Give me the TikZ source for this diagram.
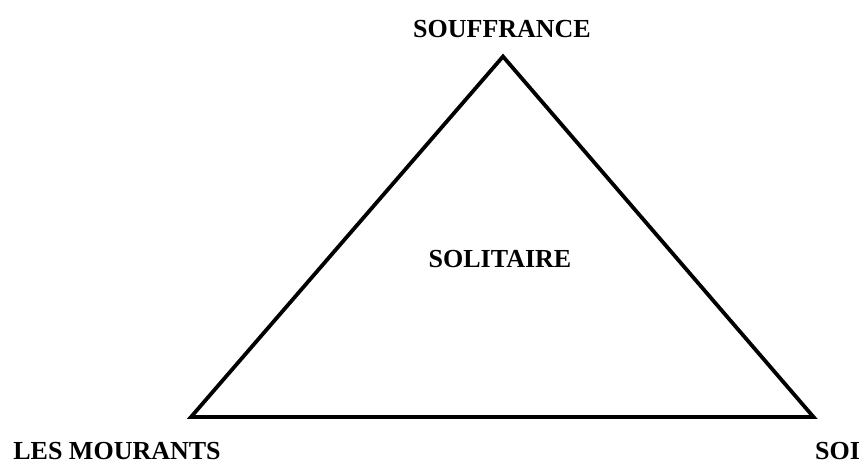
\documentclass[tikz,border=0pt]{standalone}
\usepackage{fontspec}
\setmainfont{Liberation Serif}
\begin{document}
\begin{tikzpicture}[x=1pt,y=-1pt,
  lbl/.style={font=\fontsize{26}{30}\selectfont\bfseries, inner sep=0pt, anchor=base},
  edge/.style={line width=3.8pt, line join=miter}]
\useasboundingbox (0,0) rectangle (861,461);
\coordinate (top) at (503,56.5);
\coordinate (bl) at (191,417);
\coordinate (br) at (813.5,417);
\draw[edge] (top) -- (bl) -- (br) -- cycle;
\node[lbl] (souf) at (502,37) {SOUFFRANCE};
\node[lbl] (soli) at (500,267) {SOLITAIRE};
\node[lbl] (mour) at (117,459) {LES MOURANTS};
\node[lbl, anchor=base west] (soi) at (815,459) {SOI};
\end{tikzpicture}
\end{document}
